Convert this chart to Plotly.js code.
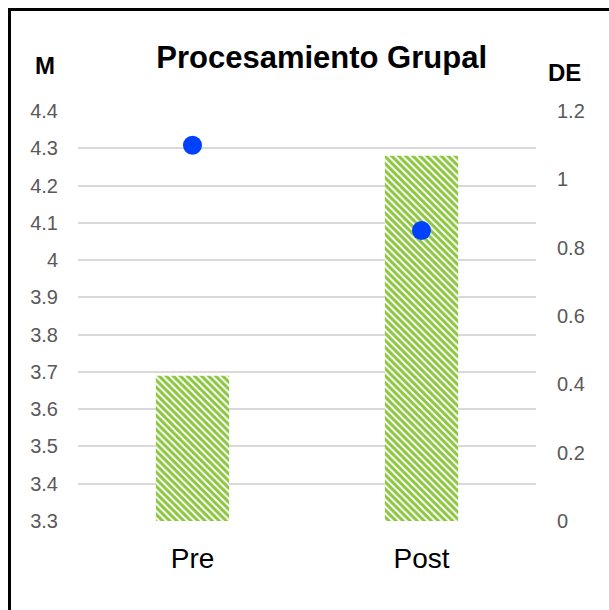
<!DOCTYPE html>
<html>
<head>
<meta charset="utf-8">
<script src="https://cdn.plot.ly/plotly-3.0.1.min.js"></script>
<style>
  html, body { margin: 0; padding: 0; background: #ffffff; }
  #wrap { position: relative; width: 609px; height: 610px; overflow: hidden; }
  #chart { position: absolute; left: 0; top: 0; width: 609px; height: 610px; }
  #frame { position: absolute; left: 8px; top: 8px; width: 700px; height: 700px;
           border-left: 3px solid #000; border-top: 3px solid #000; pointer-events: none; }
</style>
</head>
<body>
<div id="wrap">
  <div id="chart"></div>
  <div id="frame"></div>
</div>
<script>
const categories = ["Pre", "Post"];
const meanValues = [3.69, 4.28];   // M (left axis, bars)
const sdValues = [1.10, 0.85];     // DE (right axis, dots)
const leftTicks = [3.3, 3.4, 3.5, 3.6, 3.7, 3.8, 3.9, 4, 4.1, 4.2, 4.3, 4.4];
const rightTicks = [0, 0.2, 0.4, 0.6, 0.8, 1, 1.2];

const tickFont = { family: "Liberation Sans, Arial, sans-serif", size: 20, color: "#595959" };

const traces = [
  {
    type: "bar",
    x: categories,
    y: meanValues,
    width: 0.32,
    marker: {
      color: "#ffffff",
      line: { width: 0 },
      pattern: { shape: "\\", fgcolor: "#8cc63f", bgcolor: "#ffffff", size: 5, solidity: 0.6, fillmode: "replace" }
    },
    hoverinfo: "skip",
    showlegend: false
  },
  {
    type: "scatter",
    mode: "markers",
    x: categories,
    y: sdValues,
    yaxis: "y2",
    marker: { color: "#0040ff", size: 19 },
    showlegend: false
  }
];

const layout = {
  width: 609,
  height: 610,
  margin: { l: 78, r: 73, t: 111, b: 89 },
  paper_bgcolor: "#ffffff",
  plot_bgcolor: "#ffffff",
  showlegend: false,
  title: {
    text: "<b>Procesamiento Grupal</b>",
    font: { family: "Liberation Sans, Arial, sans-serif", size: 31, color: "#000000" },
    x: 0.532, xanchor: "center", xref: "paper",
    y: 0.907, yanchor: "middle", yref: "container"
  },
  xaxis: {
    type: "category",
    range: [-0.5, 1.5],
    showgrid: false,
    zeroline: false,
    showline: false,
    ticks: "outside",
    ticklen: 12,
    tickcolor: "rgba(0,0,0,0)",
    tickfont: { family: "Liberation Sans, Arial, sans-serif", size: 28, color: "#000000" }
  },
  yaxis: {
    range: [3.3, 4.4],
    tickvals: leftTicks,
    ticktext: leftTicks.map(String),
    showgrid: true,
    gridcolor: "#d9d9d9",
    gridwidth: 2,
    zeroline: false,
    showline: false,
    ticks: "outside",
    ticklen: 15,
    tickcolor: "rgba(0,0,0,0)",
    tickfont: tickFont
  },
  yaxis2: {
    overlaying: "y",
    side: "right",
    range: [0, 1.2],
    tickvals: rightTicks,
    ticktext: rightTicks.map(String),
    showgrid: false,
    zeroline: false,
    showline: false,
    ticks: "outside",
    ticklen: 16,
    tickcolor: "rgba(0,0,0,0)",
    tickfont: tickFont
  },
  annotations: [
    {
      text: "<b>M</b>", xref: "paper", yref: "paper",
      x: (45 - 78) / (609 - 78 - 73), y: (521 - 66) / (521 - 111),
      xanchor: "center", yanchor: "middle", showarrow: false,
      font: { family: "Liberation Sans, Arial, sans-serif", size: 24, color: "#000000" }
    },
    {
      text: "<b>DE</b>", xref: "paper", yref: "paper",
      x: (564 - 78) / (609 - 78 - 73), y: (521 - 73) / (521 - 111),
      xanchor: "center", yanchor: "middle", showarrow: false,
      font: { family: "Liberation Sans, Arial, sans-serif", size: 24, color: "#000000" }
    }
  ]
};

Plotly.newPlot("chart", traces, layout, { displayModeBar: false, staticPlot: true });
</script>
</body>
</html>
